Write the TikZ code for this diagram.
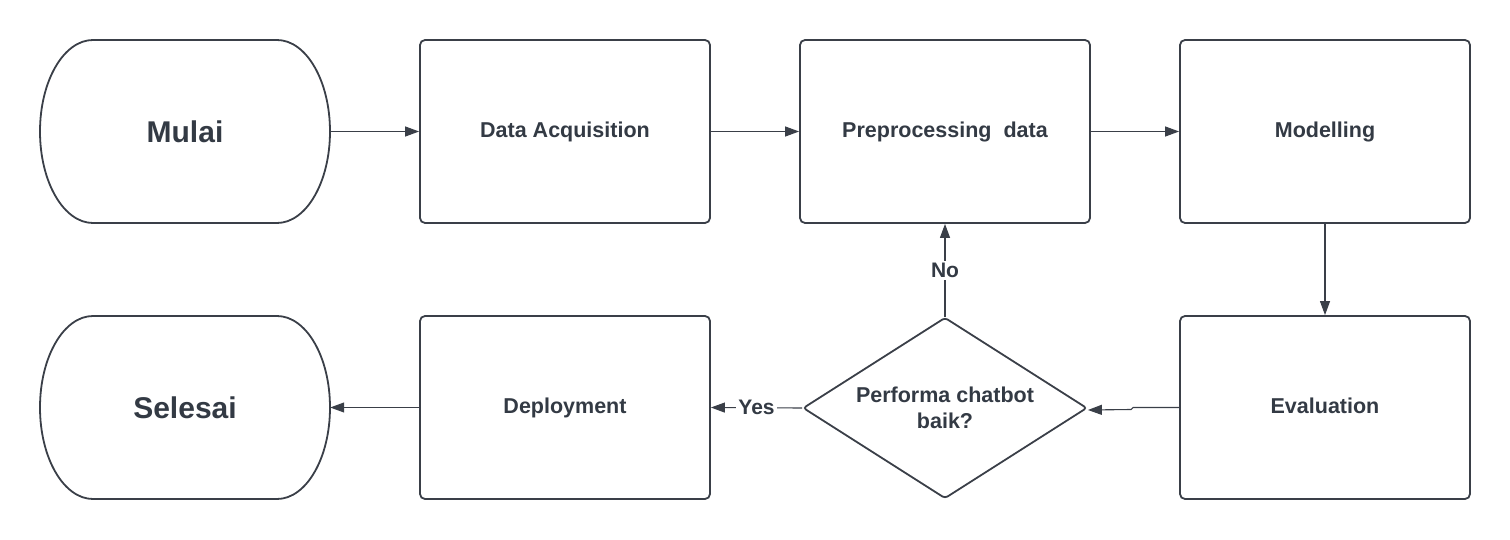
\documentclass[tikz,border=0pt]{standalone}
\usepackage{fontspec}
\setmainfont{Liberation Sans}
\usetikzlibrary{shapes.geometric,arrows.meta,calc}
\definecolor{ink}{HTML}{3A3F48}
\definecolor{txt}{HTML}{333A44}
\begin{document}
\begin{tikzpicture}[x=1pt,y=-1pt,
  box/.style={draw=ink,line width=1.8pt,rounded corners=5pt,minimum width=290pt,minimum height=183pt,inner sep=0pt,text=txt,font=\fontsize{21.5}{26}\selectfont\bfseries,align=center},
  term/.style={minimum width=290pt,minimum height=183pt,inner sep=0pt,text=txt,font=\fontsize{30}{36}\selectfont\bfseries},
  termline/.style={draw=ink,line width=1.8pt},
  dec/.style={diamond,aspect=1.57,draw=ink,line width=1.8pt,rounded corners=3pt,minimum width=284pt,minimum height=181pt,inner sep=0pt,text=txt,font=\fontsize{21.5}{26}\selectfont\bfseries,align=center},
  arr/.style={draw=ink,line width=1.1pt,-{Triangle[length=14pt,width=10pt]}},
  lbl/.style={fill=white,inner sep=2pt,text=txt,font=\fontsize{21}{25}\selectfont\bfseries}]
\useasboundingbox (0,0) rectangle (1510,540);
% terminals
\node[term] (mulai) at (185,131.5) {Mulai};
\draw[termline] (93,40) -- (277,40) arc[start angle=90,end angle=-90,x radius=53pt,y radius=91.5pt] -- (93,223) arc[start angle=270,end angle=90,x radius=53pt,y radius=91.5pt] -- cycle;
\node[term] (selesai) at (185,407.5) {Selesai};
\draw[termline] (93,316) -- (277,316) arc[start angle=90,end angle=-90,x radius=53pt,y radius=91.5pt] -- (93,499) arc[start angle=270,end angle=90,x radius=53pt,y radius=91.5pt] -- cycle;
% boxes
\node[box] (acq) at (565,131.5) {\raisebox{4pt}{Data Acquisition}};
\node[box] (pre) at (945,131.5) {\raisebox{4pt}{Preprocessing\ \ data}};
\node[box] (mod) at (1325,131.5) {\raisebox{4pt}{Modelling}};
\node[box] (eval) at (1325,407.5) {\raisebox{4pt}{Evaluation}};
\node[box] (dep) at (565,407.5) {\raisebox{4pt}{Deployment}};
\node[dec] (dia) at (945,408) {Performa chatbot\\baik?};
% connectors
\draw[arr] (mulai.east) -- (acq.west);
\draw[arr] (acq.east) -- (pre.west);
\draw[arr] (pre.east) -- (mod.west);
\draw[arr] (mod.south) -- (eval.north);
\draw[arr] (eval.west) -- ++(-46,0) -- ++(-2,2) -- ($(dia.east)+(0,2)$);
\draw[arr] (dia.north) -- node[lbl]{No} (pre.south);
\draw[arr] (dia.west) -- node[lbl]{Yes} (dep.east);
\draw[arr] (dep.west) -- (selesai.east);
\end{tikzpicture}
\end{document}
